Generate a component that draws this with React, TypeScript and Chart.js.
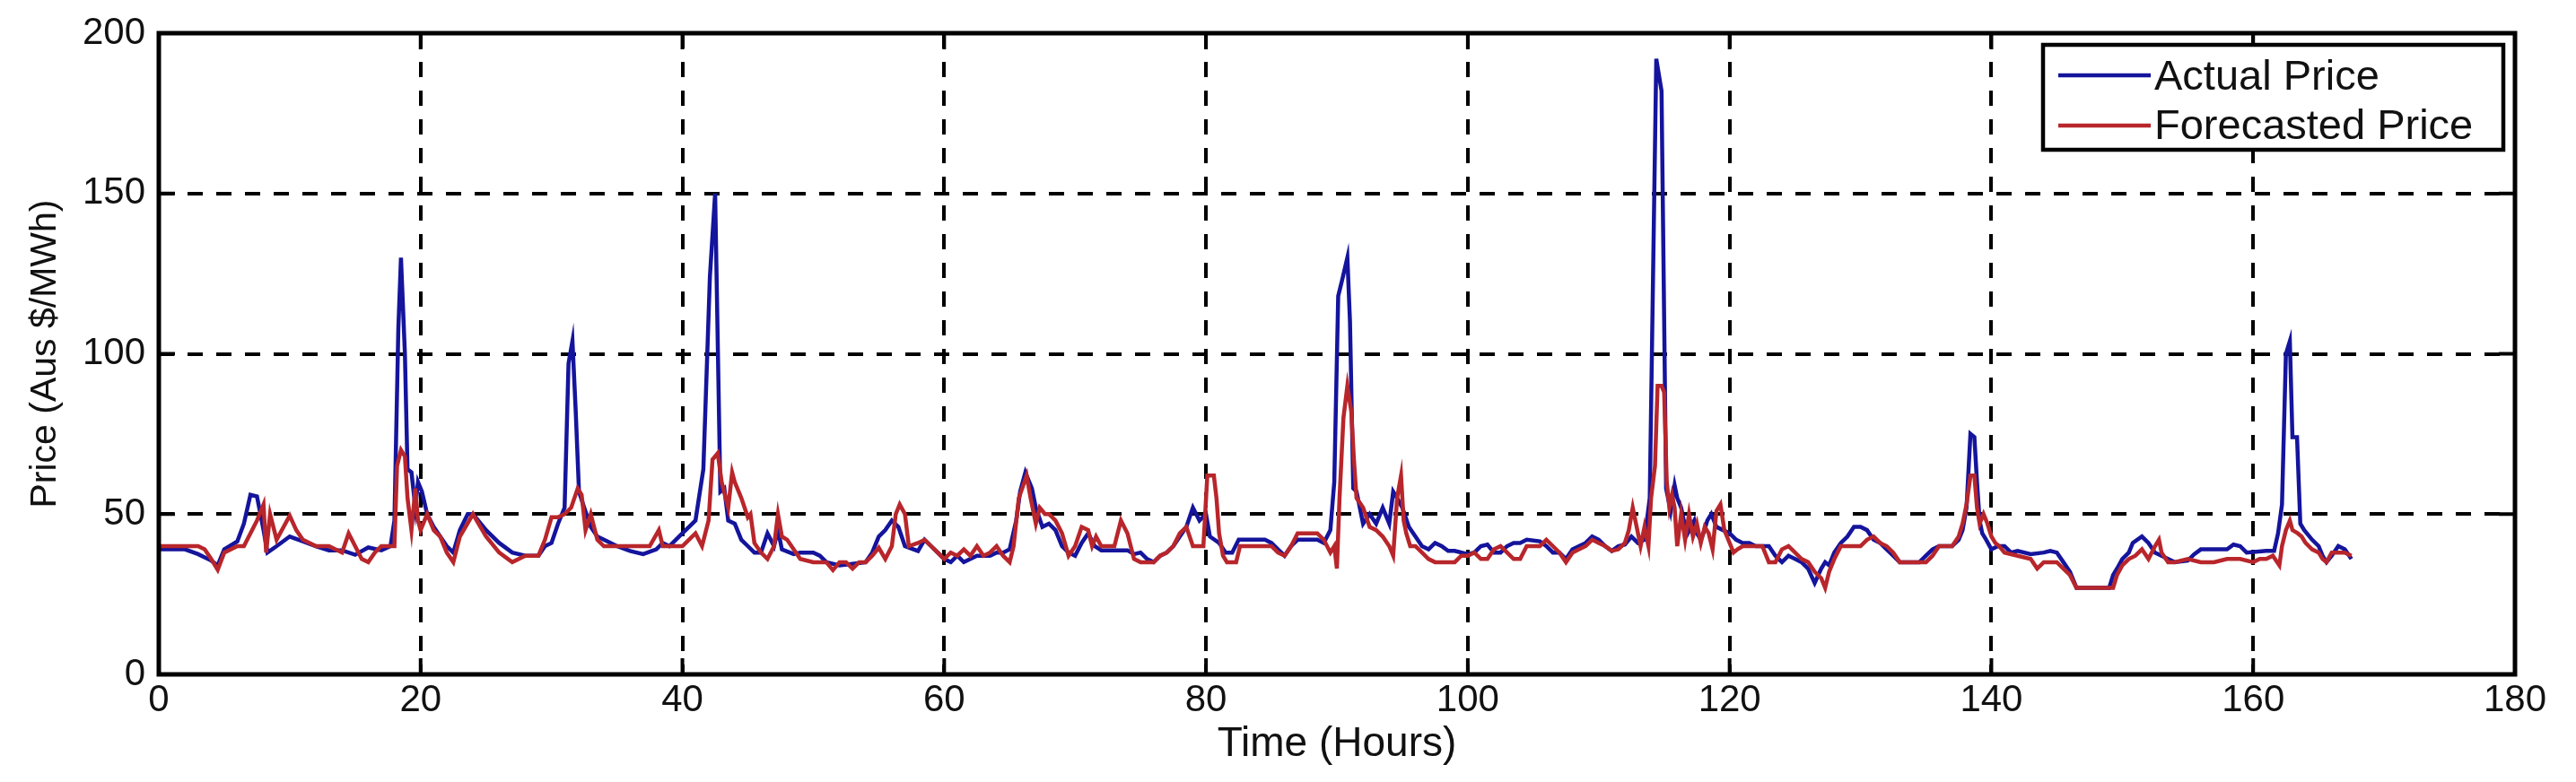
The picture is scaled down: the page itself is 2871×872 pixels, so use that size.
import React, { useEffect, useRef } from "react";
import { Chart, registerables } from "chart.js";

Chart.register(...registerables);

// ---- Data (hours, Aus $/MWh) ----
const actualHours = [
  0, 1, 2, 3, 4, 4.5, 5, 6, 6.5, 7,
  7.5, 8, 8.3, 9, 10, 11, 12, 13, 14, 15,
  16, 17, 17.7, 18, 18.3, 18.5, 18.8, 19, 19.3, 19.6,
  19.8, 20.1, 20.5, 21, 21.5, 22, 22.5, 23, 23.6, 24,
  25, 26, 27, 28, 29, 29.5, 30, 30.5, 31, 31.3,
  31.6, 31.85, 32.1, 32.5, 33, 33.5, 34, 35, 36, 37,
  38, 38.5, 39, 39.5, 40, 40.5, 41, 41.6, 42.1, 42.5,
  42.9, 43.2, 43.5, 44, 44.5, 45, 45.5, 46, 46.5, 47,
  47.3, 47.6, 48.5, 49, 50, 50.5, 51, 52, 53, 54,
  54.5, 55, 55.5, 56, 56.5, 57, 58, 58.5, 59, 59.5,
  60, 60.5, 61, 61.5, 62, 62.5, 63.5, 64, 64.5, 65,
  65.5, 65.8, 66.2, 66.7, 67, 67.5, 68, 68.5, 69, 69.5,
  70, 70.5, 71, 71.5, 72, 74, 74.5, 75, 75.5, 76,
  76.5, 77, 77.5, 78, 78.5, 79, 79.5, 80, 80.3, 81,
  81.5, 82, 82.5, 84.5, 85, 85.5, 86, 86.5, 87, 88.5,
  89, 89.5, 89.8, 90.1, 90.4, 90.8, 91, 91.25, 91.5, 92,
  92.5, 93, 93.5, 94, 94.3, 94.6, 95, 95.5, 96, 96.5,
  97, 97.5, 98, 98.5, 99, 100, 100.5, 101, 101.5, 102,
  102.5, 103, 103.5, 104, 104.5, 105.5, 106, 106.5, 107, 107.5,
  108, 109, 109.5, 110, 110.5, 111, 111.5, 112, 112.5, 113,
  113.5, 113.9, 114.4, 114.8, 115.15, 115.5, 115.8, 116, 116.3, 116.5,
  116.8, 117.3, 117.5, 117.8, 118, 118.3, 118.6, 119, 119.5, 120,
  120.5, 121, 121.5, 122, 123, 123.5, 124, 124.5, 125, 125.5,
  126, 126.5, 127, 127.3, 127.6, 128, 128.5, 129, 129.5, 130,
  130.5, 131, 131.5, 132, 132.5, 133, 134.5, 135, 135.5, 136,
  137, 137.5, 137.8, 138.1, 138.4, 138.7, 138.9, 139.1, 139.3, 139.6,
  140, 140.5, 141, 141.5, 142, 143, 144, 144.5, 145, 145.5,
  146, 146.5, 149, 149.3, 149.6, 150, 150.5, 150.8, 151.5, 152,
  152.5, 153, 153.5, 154, 155, 155.5, 156, 158, 158.5, 159,
  159.5, 161, 161.6, 161.9, 162.2, 162.5, 162.8, 163, 163.35, 163.6,
  163.9, 164.5, 165, 165.3, 165.6, 166, 166.5, 167, 167.5,
];
const actualPrices = [
  39, 39, 39, 37.5, 35.5, 34, 39, 41.5, 47, 56,
  55.5, 45, 38, 40, 43, 41.5, 40, 38.7, 38.7, 37.3,
  39.6, 38.7, 40, 48, 108, 130, 100, 64, 63, 52,
  60, 57, 50, 46, 43, 40, 38, 45, 50, 50,
  45, 41, 38, 37, 37, 40, 41, 47, 52, 97,
  104, 82, 57, 52, 46, 43, 42, 40, 38.5, 37.5,
  39, 41, 40, 42, 44, 46, 48, 64, 124, 150,
  57, 58, 48, 47, 42, 40, 38, 38, 44, 40,
  45, 39, 37.5, 38, 38, 37, 35, 34, 34.5, 35,
  38, 43, 45, 48, 46, 40, 38.5, 42, 40, 38,
  36, 35, 37, 35, 36, 37, 37, 38, 38, 39,
  48, 57, 63, 58, 52, 46, 47, 45, 40, 38,
  37, 41, 44, 40, 38.7, 38.7, 37.5, 38, 36, 35,
  37, 38, 40, 43, 46, 52, 48, 50, 43, 41,
  38, 38, 42, 42, 41, 39, 37, 40, 42, 42,
  41, 45, 60, 118, 123, 130, 110, 58, 57, 47,
  50, 47, 52, 47, 57, 55, 52, 46, 43, 40,
  39, 41, 40, 38.5, 38.5, 37.5, 38, 40, 40.5, 38,
  38, 40, 41, 41, 42, 41.5, 40, 38, 38, 36,
  39, 41, 43, 42, 40, 38.5, 40, 40.5, 43, 41,
  42, 55, 192, 182, 58, 51, 59, 55, 52, 48,
  44, 48, 44, 42, 44, 48, 50, 46, 45, 44,
  42, 41, 41, 40, 40, 37, 35, 37, 36, 35,
  33, 28.5, 33, 35, 34, 38, 41, 43, 46, 46,
  45, 42, 41, 39, 37, 35, 35, 37, 39, 40,
  40, 42, 45, 52, 75, 74, 60, 48, 44, 42,
  39, 40, 40, 38, 38.5, 37.5, 38, 38.5, 38, 35,
  32, 27, 27, 31, 33, 36, 38, 41, 43, 41,
  38, 37, 36, 35, 35.5, 37.5, 39, 39, 40.5, 40,
  38, 38.5, 38.5, 44, 53, 100, 104, 74, 74, 47,
  45, 42, 40, 37, 35, 37, 40, 39, 36,
];

const forecastHours = [
  0, 3, 3.5, 4, 4.5, 5, 6, 6.5, 7, 7.5,
  8, 8.2, 8.5, 9, 10, 10.5, 11, 12, 13, 14,
  14.5, 15, 15.5, 16, 16.5, 17, 18, 18.2, 18.5, 18.8,
  19, 19.3, 19.6, 19.8, 20, 20.5, 21, 21.5, 22, 22.5,
  23, 24, 25, 26, 27, 28, 29, 29.5, 30, 30.5,
  31, 31.5, 32, 32.3, 32.6, 33, 33.5, 34, 37.5, 38.2,
  38.5, 40, 40.5, 41, 41.5, 42, 42.3, 42.7, 43, 43.5,
  43.8, 44, 44.5, 45, 45.2, 45.5, 46, 46.5, 47, 47.3,
  47.6, 48, 48.5, 49, 50, 51, 51.5, 52, 52.5, 53,
  53.5, 54, 54.5, 55, 55.5, 56, 56.3, 56.6, 57, 57.3,
  58, 58.5, 59, 59.5, 60, 60.5, 61, 61.5, 62, 62.5,
  63, 63.5, 64, 64.5, 65, 65.3, 65.7, 66.3, 66.6, 67,
  67.3, 67.7, 68, 68.5, 69, 69.5, 70, 70.5, 71, 71.3,
  71.6, 72, 73, 73.5, 74, 74.5, 75, 76, 76.5, 77,
  77.5, 78, 78.5, 79, 79.8, 80.1, 80.6, 80.8, 81, 81.3,
  81.6, 82.3, 82.6, 84.5, 85, 85.5, 86, 86.5, 87, 88.5,
  89, 89.5, 89.8, 90, 90.2, 90.5, 90.8, 91.1, 91.3, 91.5,
  92, 92.5, 93, 93.5, 94, 94.3, 94.6, 94.9, 95.1, 95.3,
  95.6, 96, 96.5, 97, 97.5, 99, 99.5, 100, 100.5, 101,
  101.5, 102, 102.5, 103, 103.5, 104, 104.5, 105.5, 106, 106.5,
  107, 107.5, 108, 108.5, 109, 109.5, 110, 110.5, 111, 111.5,
  112, 112.3, 112.6, 112.9, 113.2, 113.5, 113.8, 114, 114.3, 114.5,
  114.8, 115, 115.2, 115.4, 115.6, 115.8, 116, 116.3, 116.6, 116.9,
  117.2, 117.5, 117.8, 118.1, 118.4, 118.7, 119, 119.3, 119.6, 120,
  120.3, 120.6, 121, 122.5, 123, 123.5, 124, 124.5, 125, 125.5,
  126, 126.5, 127, 127.3, 127.6, 128, 128.5, 130, 130.5, 131,
  131.5, 132, 132.5, 133, 135, 135.5, 136, 137, 137.5, 137.8,
  138.1, 138.4, 138.7, 138.9, 139.1, 139.4, 139.7, 140, 140.3, 140.6,
  141, 142, 143, 143.5, 144, 144.5, 145, 145.5, 146, 146.5,
  149.3, 149.6, 150, 150.5, 151, 151.5, 152, 152.5, 152.8, 153,
  153.5, 154, 155, 156, 157, 158, 159, 160, 160.5, 161,
  161.5, 162, 162.2, 162.5, 162.8, 163, 163.4, 163.7, 164, 164.5,
  165, 165.3, 165.6, 166, 167, 167.5,
];
const forecastPrices = [
  40, 40, 39, 36, 32.6, 38, 40, 40, 44, 48,
  53, 38, 50, 42, 49.5, 45, 42, 40, 40, 38,
  44, 40, 36, 35, 38, 40, 40, 65, 70, 68,
  55, 45, 58, 48, 45, 50, 45, 43, 38, 35,
  43, 50, 43, 38, 35, 37, 37, 42, 49, 49,
  50, 52, 58, 56, 45, 50, 42, 40, 40, 45,
  40, 40, 42, 44, 40, 48, 67, 69, 60, 52,
  63, 60, 55, 49, 50, 41, 38, 36, 40, 50,
  43, 42, 39, 36, 35, 35, 32.5, 35, 35, 33,
  35, 35, 37, 39.5, 36, 40, 50, 53, 50, 40,
  41, 42, 40, 38, 36, 38, 37, 39, 37, 40,
  37, 38, 40, 37, 35, 40, 55, 62, 55, 47,
  52, 50, 50, 48, 44, 37, 40, 46, 45, 40,
  43, 40, 40, 48, 44, 36, 35, 35, 37, 38,
  40, 44, 46, 40, 40, 62, 62, 55, 44, 37,
  35, 35, 40, 40, 40, 38, 37, 40, 44, 44,
  42, 38, 40, 33, 55, 80, 90, 82, 67, 55,
  52, 46, 45, 43, 40, 37, 55, 62, 48, 44,
  40, 40, 38, 36, 35, 35, 37, 37, 38, 36,
  36, 39, 40, 38, 36, 36, 40, 40, 42, 40,
  38, 35, 38, 39, 40, 42, 41, 40, 38.5, 39,
  41, 45, 52, 46, 40, 46, 40, 55, 65, 90,
  90, 88, 60, 52, 56, 52, 40, 50, 42, 50,
  43, 47, 41, 46, 44, 39, 51, 53, 45, 41,
  38, 39, 40, 40, 35, 35, 39, 40, 38, 36,
  35, 32, 30, 27, 32, 36, 40, 40, 42, 43,
  41, 40, 38, 35, 35, 37, 40, 40, 43, 47,
  53, 62, 62, 52, 47, 50, 47, 43, 41, 40,
  38, 37, 36, 33, 35, 35, 35, 33, 31, 27,
  27, 31, 34, 36, 37, 39, 36, 40, 42, 38,
  35, 35, 36, 35, 35, 36, 36, 35, 36, 36,
  37, 34, 40, 45, 48, 45, 44, 43, 41, 39,
  38, 36, 35, 38, 38, 37,
];

const xTickValues = [0, 20, 40, 60, 80, 100, 120, 140, 160, 180];
const yTickValues = [0, 50, 100, 150, 200];
const seriesLabels = ["Actual Price", "Forecasted Price"];
const seriesColors = ["#14149c", "#b8262b"];
const xTitle = "Time (Hours)";
const yTitle = "Price (Aus $/MWh)";

const FONT = '"Liberation Sans", Arial, Helvetica, sans-serif';

export default function App() {
  const ref = useRef<HTMLCanvasElement | null>(null);

  useEffect(() => {
    document.body.style.margin = "0";
    document.body.style.overflow = "hidden";
    const canvas = ref.current;
    if (!canvas) return;

    const framePlugin = {
      id: "matlabFrame",
      afterDraw(chart: any) {
        const { ctx, chartArea: a, scales } = chart;
        ctx.save();
        ctx.setLineDash([]);
        ctx.strokeStyle = "#000";
        ctx.lineCap = "butt";
        // inner ticks
        const tl = 18;
        ctx.lineWidth = 4;
        ctx.beginPath();
        xTickValues.forEach((v) => {
          const px = scales.x.getPixelForValue(v);
          ctx.moveTo(px, a.bottom);
          ctx.lineTo(px, a.bottom - tl);
          ctx.moveTo(px, a.top);
          ctx.lineTo(px, a.top + tl);
        });
        yTickValues.forEach((v) => {
          const py = scales.y.getPixelForValue(v);
          ctx.moveTo(a.left, py);
          ctx.lineTo(a.left + tl, py);
          ctx.moveTo(a.right, py);
          ctx.lineTo(a.right - tl, py);
        });
        ctx.stroke();
        // box
        ctx.lineWidth = 5;
        ctx.strokeRect(a.left, a.top, a.right - a.left, a.bottom - a.top);

        // legend
        const lw = 513;
        const lh = 117;
        const lx = a.right - lw - 13;
        const ly = a.top + 13;
        ctx.fillStyle = "#fff";
        ctx.fillRect(lx, ly, lw, lh);
        ctx.lineWidth = 4.5;
        ctx.strokeRect(lx, ly, lw, lh);
        const rows = [
          { label: seriesLabels[0], color: seriesColors[0], lineY: ly + 34, baseY: ly + 50 },
          { label: seriesLabels[1], color: seriesColors[1], lineY: ly + 90, baseY: ly + 105 },
        ];
        ctx.font = `47px ${FONT}`;
        ctx.textAlign = "left";
        ctx.textBaseline = "alphabetic";
        rows.forEach((r) => {
          ctx.strokeStyle = r.color;
          ctx.lineWidth = 4.5;
          ctx.beginPath();
          ctx.moveTo(lx + 17, r.lineY);
          ctx.lineTo(lx + 120, r.lineY);
          ctx.stroke();
          ctx.fillStyle = "#111";
          ctx.fillText(r.label, lx + 124, r.baseY);
        });
        ctx.restore();
      },
    };

    const chart = new Chart(canvas, {
      type: "line",
      data: {
        datasets: [
          {
            label: seriesLabels[1],
            data: forecastHours.map((x, i) => ({ x, y: forecastPrices[i] })),
            borderColor: seriesColors[1],
            backgroundColor: seriesColors[1],
            borderWidth: 4.5,
            pointRadius: 0,
            tension: 0,
            fill: false,
            order: 1,
          },
          {
            label: seriesLabels[0],
            data: actualHours.map((x, i) => ({ x, y: actualPrices[i] })),
            borderColor: seriesColors[0],
            backgroundColor: seriesColors[0],
            borderWidth: 4.5,
            pointRadius: 0,
            tension: 0,
            fill: false,
            order: 2,
          },
        ],
      },
      options: {
        animation: false,
        responsive: false,
        devicePixelRatio: 1,
        layout: { padding: { top: 37, right: 68, bottom: 0, left: 0 } },
        plugins: {
          legend: { display: false },
          tooltip: { enabled: false },
        },
        scales: {
          x: {
            type: "linear",
            min: 0,
            max: 180,
            afterBuildTicks: (scale: any) => {
              scale.ticks = xTickValues.map((v) => ({ value: v }));
            },
            ticks: {
              font: { family: FONT, size: 42 },
              color: "#111",
              padding: 4,
              maxRotation: 0,
              autoSkip: false,
            },
            grid: { color: "#000", lineWidth: 4, drawTicks: false },
            border: { display: false, dash: [17, 15] },
            title: {
              display: true,
              text: xTitle,
              font: { family: FONT, size: 46 },
              color: "#111",
              padding: { top: 0, bottom: 14 },
            },
            afterFit: (scale: any) => {
              scale.height = 120;
              scale.paddingLeft = 0;
              scale.paddingRight = 0;
            },
          },
          y: {
            type: "linear",
            min: 0,
            max: 200,
            afterBuildTicks: (scale: any) => {
              scale.ticks = yTickValues.map((v) => ({ value: v }));
            },
            ticks: {
              font: { family: FONT, size: 42 },
              color: "#111",
              padding: 15,
            },
            grid: { color: "#000", lineWidth: 4, drawTicks: false },
            border: { display: false, dash: [17, 15] },
            title: {
              display: true,
              text: yTitle,
              font: { family: FONT, size: 41 },
              color: "#111",
              padding: { top: 26, bottom: 0 },
            },
            afterFit: (scale: any) => {
              scale.width = 177;
              scale.paddingTop = 0;
              scale.paddingBottom = 0;
            },
          },
        },
      },
      plugins: [framePlugin],
    });

    return () => {
      chart.destroy();
    };
  }, []);

  return (
    <div style={{ width: 2871, height: 872, background: "#fff" }}>
      <canvas ref={ref} width={2871} height={872} style={{ display: "block", width: 2871, height: 872 }} />
    </div>
  );
}
